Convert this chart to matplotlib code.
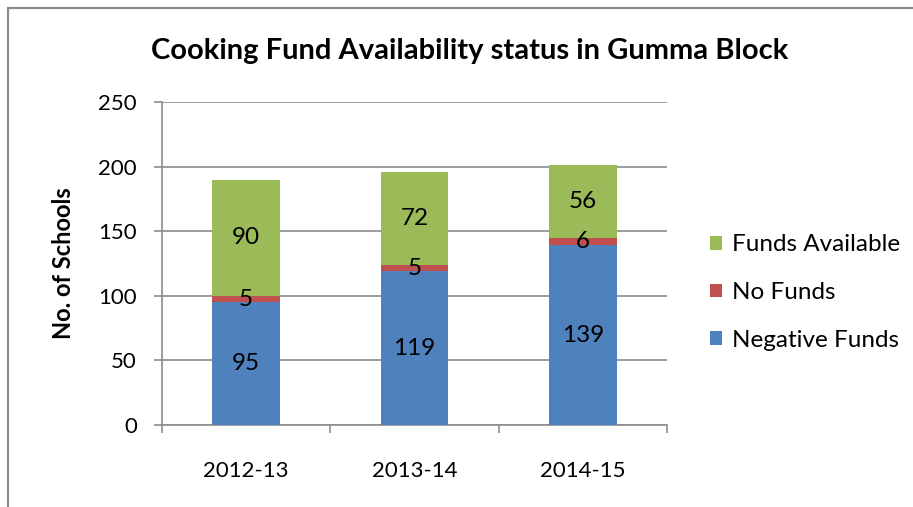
import numpy as np
import matplotlib.pyplot as plt
from matplotlib.patches import Rectangle

# Data
years = ['2012-13', '2013-14', '2014-15']
negative_funds = [95, 119, 139]
no_funds = [5, 5, 6]
funds_available = [90, 72, 56]

plt.rcParams['font.family'] = ['Lato', 'DejaVu Sans']

fig = plt.figure(figsize=(9.13, 5.07), dpi=100)
ax = fig.add_axes([0.1774, 0.1617, 0.5532, 0.6371])

# Chart frame (Excel style, cropped at right/bottom)
fig.patches.append(Rectangle((8 / 913, -0.1), 1.2, 1 - 8 / 507 + 0.1, transform=fig.transFigure,
                             fill=False, edgecolor='#8c8c8c', linewidth=1.6))

x = np.arange(len(years))
w = 0.4
neg = np.array(negative_funds)
nof = np.array(no_funds)
fav = np.array(funds_available)

b1 = ax.bar(x, neg, w, color='#4F81BD', label='Negative Funds', zorder=3)
b2 = ax.bar(x, nof, w, bottom=neg, color='#C0504D', label='No Funds', zorder=3)
b3 = ax.bar(x, fav, w, bottom=neg + nof, color='#9BBB59', label='Funds Available', zorder=3)

# Data labels centred in each segment
for vals, base in [(neg, np.zeros_like(neg)), (nof, neg), (fav, neg + nof)]:
    for i, v in enumerate(vals):
        ax.text(x[i], base[i] + v / 2, str(v), ha='center', va='center', fontsize=17.5, color='black', zorder=4)

ax.set_xlim(-0.5, 2.5)
ax.set_ylim(0, 250)
ax.set_yticks(np.arange(0, 251, 50))
ax.yaxis.grid(True, color='#8c8c8c', linewidth=1.2, zorder=0)
ax.set_axisbelow(True)

ax.set_xticks(x)
ax.set_xticklabels(years)
ax.set_xticks([-0.5, 0.5, 1.5, 2.5], minor=True)
ax.tick_params(axis='x', which='major', length=0, pad=26, labelsize=16)
ax.tick_params(axis='x', which='minor', length=6, width=1.2, color='#8c8c8c', direction='out')
ax.tick_params(axis='y', length=6, width=1.2, color='#8c8c8c', pad=12, labelsize=16)

for s in ['top', 'right']:
    ax.spines[s].set_visible(False)
for s in ['left', 'bottom']:
    ax.spines[s].set_color('#8c8c8c')
    ax.spines[s].set_linewidth(1.2)

ax.set_ylabel('No. of Schools', fontsize=17, fontweight='bold')
ax.yaxis.set_label_coords(-0.172, 0.5)
fig.text(0.514, 0.9, 'Cooking Fund Availability status in Gumma Block', ha='center', va='center',
         fontsize=21, fontweight='bold')

handles = [b3, b2, b1]
ax.legend(handles, [h.get_label() for h in handles], loc='center left', bbox_to_anchor=(1.085, 0.41),
          frameon=False, fontsize=17.5, handlelength=0.5, handleheight=0.5, handletextpad=0.4,
          labelspacing=1.1, borderpad=0, borderaxespad=0)

fig.savefig('out.png', dpi=100)
